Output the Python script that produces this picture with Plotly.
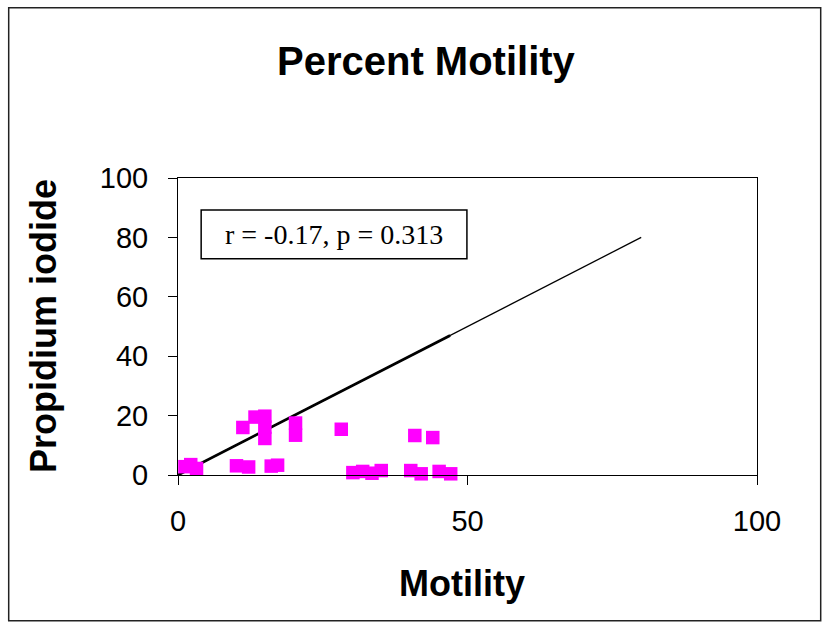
import plotly.graph_objects as go

# Motility (%) and propidium iodide staining (%) per sample
motility = [1.2, 2.2, 3.2, 10.1, 12.2, 16.1, 17.2, 11.2, 13.3, 15.0, 15.0, 15.0,
            20.3, 20.3, 28.2, 30.2, 31.9, 33.5, 35.1, 40.2, 40.9, 42.0, 44.0, 45.1, 47.1]
propidium = [2.8, 3.5, 2.2, 3.1, 2.7, 3.0, 3.3, 16.0, 19.5, 19.8, 16.1, 12.3,
             17.5, 13.4, 15.4, 0.8, 1.2, 0.6, 1.5, 1.5, 13.3, 0.4, 12.6, 1.2, 0.4]

# Line of identity (y = x), with the stretch spanned by the data drawn heavier
identity_x = [0, 80]
identity_y = [0, 80]
identity_data_x = [0, 47]
identity_data_y = [0, 47]

x_ticks = [0, 50, 100]
y_ticks = [0, 20, 40, 60, 80, 100]

stats_text = "r = -0.17, p = 0.313"

W, H = 830, 628
L, R, T, B = 178.3, 757.3, 177.5, 475.0


def px_x(px):
    return (px - L) / (R - L)


def px_y(py):
    return (B - py) / (B - T)


fig = go.Figure()

fig.add_trace(go.Scatter(
    x=identity_x, y=identity_y, mode="lines",
    line=dict(color="black", width=1.3), hoverinfo="skip", showlegend=False))
fig.add_trace(go.Scatter(
    x=identity_data_x, y=identity_data_y, mode="lines",
    line=dict(color="black", width=2.8), hoverinfo="skip", showlegend=False))
fig.add_trace(go.Scatter(
    x=motility, y=propidium, mode="markers",
    marker=dict(symbol="square", size=13.5, color="#FF00FF", line=dict(width=0)),
    cliponaxis=False, showlegend=False))

axis_font = dict(family="Liberation Sans, Arial, sans-serif", size=29, color="black")

fig.update_xaxes(
    range=[0, 100], tickvals=x_ticks, ticktext=[str(v) for v in x_ticks],
    showgrid=False, zeroline=False, showline=True, linecolor="black", linewidth=1,
    mirror=True, ticks="outside", ticklen=9, tickwidth=1, tickcolor="black",
    tickfont=axis_font, ticklabelstandoff=11)
fig.update_yaxes(
    range=[0, 100], tickvals=y_ticks, ticktext=[str(v) for v in y_ticks],
    showgrid=False, zeroline=False, showline=True, linecolor="black", linewidth=1,
    mirror=True, ticks="outside", ticklen=9, tickwidth=1, tickcolor="black",
    tickfont=axis_font, ticklabelstandoff=14)

bold = dict(family="Liberation Sans, Arial, sans-serif", color="black", weight="bold")

annotations = [
    dict(text="Percent Motility", xref="paper", yref="paper",
         x=px_x(427), y=px_y(60), xanchor="center", yanchor="middle",
         showarrow=False, font=dict(bold, size=40)),
    dict(text="Motility", xref="paper", yref="paper",
         x=px_x(462), y=px_y(584), xanchor="center", yanchor="middle",
         showarrow=False, font=dict(bold, size=36)),
    dict(text="Propidium iodide", xref="paper", yref="paper",
         x=px_x(44), y=px_y(326), xanchor="center", yanchor="middle",
         textangle=-90, showarrow=False, font=dict(bold, size=36)),
    dict(text=stats_text, xref="x", yref="y", x=26.95, y=81.0,
         xanchor="center", yanchor="middle", showarrow=False,
         font=dict(family="Liberation Serif, Times New Roman, serif", size=28, color="black")),
]

shapes = [
    # box around the statistics label
    dict(type="rect", xref="x", yref="y", x0=4.0, x1=49.9, y0=72.8, y1=89.2,
         line=dict(color="black", width=1.5), fillcolor="white", layer="below"),
    # frame around the whole chart
    dict(type="rect", xref="paper", yref="paper",
         x0=px_x(9), x1=px_x(821), y0=px_y(621), y1=px_y(7),
         line=dict(color="#222222", width=1.5)),
]

fig.update_layout(
    width=W, height=H,
    margin=dict(l=L, r=W - R, t=T, b=H - B, pad=0),
    paper_bgcolor="white", plot_bgcolor="white",
    annotations=annotations, shapes=shapes, showlegend=False)

fig.write_html("out.html")
